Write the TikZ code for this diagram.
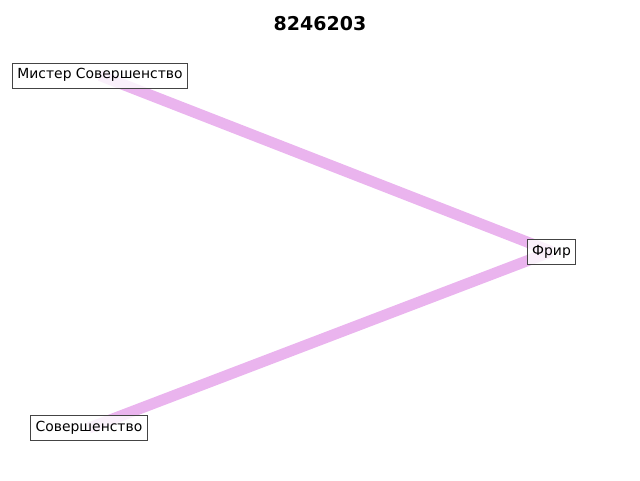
\documentclass[tikz,border=0pt]{standalone}
\usepackage{fontspec}
\setmainfont{DejaVu Sans}
\usetikzlibrary{backgrounds}
\definecolor{edgepink}{RGB}{234,180,238}
\definecolor{boxgray}{RGB}{68,68,68}
\tikzset{
  lbl/.style={draw=boxgray, line width=0.9pt, fill=white, fill opacity=0.8, text opacity=1,
    inner xsep=5pt, inner ysep=0pt, minimum height=25pt, text height=10pt, text depth=3pt,
    font=\fontsize{13.9}{16}\selectfont},
  edge/.style={draw=edgepink, line width=11pt},
  ttl/.style={font=\fontsize{19}{22}\selectfont\bfseries}
}
\begin{document}
\begin{tikzpicture}[x=1pt,y=1pt]
\useasboundingbox (0,0) rectangle (640,480);
\node[ttl] (title) at (320,456) {8246203};
\node[lbl] (a) at (100,404.5) {Мистер Совершенство};
\node[lbl] (b) at (551.5,228.5) {Фрир};
\node[lbl] (c) at (89,52) {Совершенство};
\begin{pgfonlayer}{background}
\draw[edge] (a.center) -- (b.center);
\draw[edge] (c.center) -- (b.center);
\end{pgfonlayer}
\end{tikzpicture}
\end{document}
